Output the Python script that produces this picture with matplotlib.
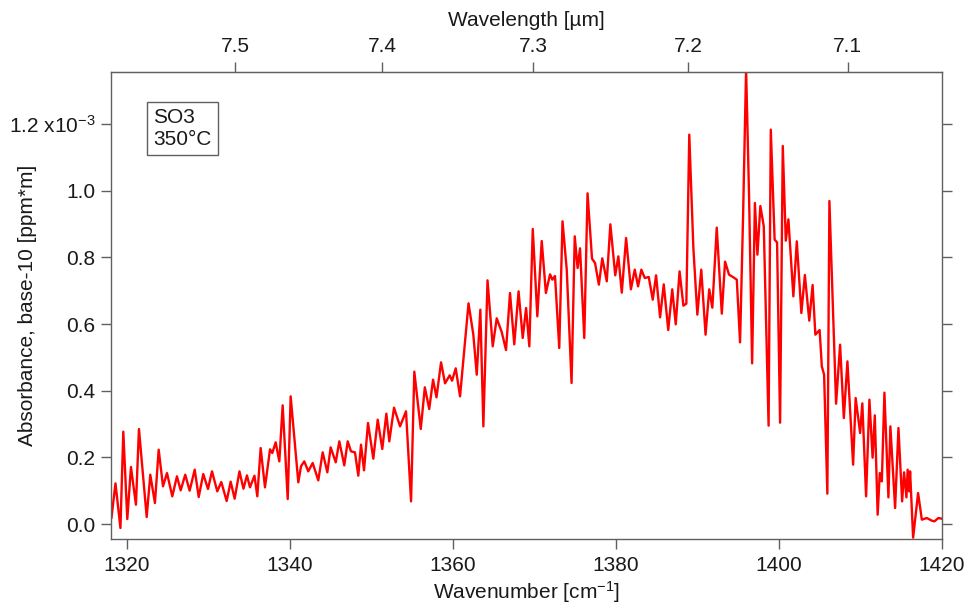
import numpy as np
import matplotlib
matplotlib.use("Agg")
import matplotlib.pyplot as plt
from matplotlib.ticker import FuncFormatter, FixedLocator

plt.rcParams['font.family'] = ['Liberation Sans', 'DejaVu Sans']
plt.rcParams['mathtext.fontset'] = 'custom'
plt.rcParams['mathtext.rm'] = 'Liberation Sans'
plt.rcParams['mathtext.it'] = 'Liberation Sans'

# Wavenumber (cm^-1) and absorbance (x1e-3, base-10, per ppm*m)
wavenumber = [
    1318.15, 1318.64, 1319.25, 1319.60, 1320.09, 1320.54, 1321.15, 1321.52, 1322.47, 1322.91,
    1323.48, 1323.94, 1324.47, 1324.96, 1325.61, 1326.18, 1326.64, 1327.20, 1327.74, 1328.36,
    1328.85, 1329.41, 1329.99, 1330.48, 1331.13, 1331.62, 1332.28, 1332.77, 1333.26, 1333.85,
    1334.34, 1334.77, 1335.14, 1335.69, 1336.04, 1336.45, 1336.98, 1337.60, 1337.88, 1338.29,
    1338.74, 1339.15, 1339.77, 1340.13, 1341.07, 1341.40, 1341.80, 1342.29, 1342.83, 1343.52,
    1344.06, 1344.63, 1345.04, 1345.66, 1346.10, 1346.71, 1347.13, 1347.53, 1348.02, 1348.43,
    1348.76, 1349.13, 1349.62, 1350.27, 1350.81, 1351.37, 1351.87, 1352.23, 1352.81, 1353.55,
    1354.28, 1354.90, 1355.30, 1356.09, 1356.59, 1357.13, 1357.60, 1358.02, 1358.58, 1359.07,
    1359.64, 1359.93, 1360.38, 1360.91, 1361.40, 1361.95, 1362.54, 1362.96, 1363.40, 1363.77,
    1364.28, 1364.92, 1365.41, 1366.02, 1366.55, 1367.04, 1367.56, 1368.09, 1368.60, 1369.01,
    1369.41, 1369.83, 1370.39, 1370.93, 1371.44, 1371.95, 1372.23, 1372.56, 1373.08, 1373.48,
    1374.00, 1374.59, 1374.98, 1375.33, 1375.63, 1376.15, 1376.55, 1377.10, 1377.47, 1377.94,
    1378.36, 1378.91, 1379.35, 1379.95, 1380.33, 1380.75, 1381.28, 1381.87, 1382.34, 1382.75,
    1383.15, 1383.57, 1384.06, 1384.55, 1384.96, 1385.45, 1385.90, 1386.45, 1386.94, 1387.37,
    1387.84, 1388.31, 1388.67, 1389.03, 1389.53, 1390.02, 1390.50, 1391.03, 1391.48, 1391.86,
    1392.40, 1393.02, 1393.42, 1393.91, 1394.44, 1394.86, 1395.26, 1395.63, 1396.00, 1396.37,
    1396.74, 1397.08, 1397.39, 1397.75, 1398.17, 1398.76, 1399.03, 1399.50, 1399.80, 1400.17,
    1400.50, 1400.87, 1401.19, 1401.80, 1402.22, 1402.78, 1403.21, 1403.75, 1404.16, 1404.50,
    1405.02, 1405.29, 1405.57, 1405.97, 1406.22, 1407.04, 1407.53, 1407.99, 1408.43, 1409.13,
    1409.44, 1409.99, 1410.26, 1410.72, 1411.13, 1411.52, 1411.79, 1412.14, 1412.40, 1412.65,
    1412.97, 1413.46, 1413.70, 1414.28, 1414.69, 1415.14, 1415.38, 1415.67, 1415.82, 1416.00,
    1416.12, 1416.49, 1417.10, 1417.56, 1418.17, 1418.79, 1419.10, 1419.59, 1420.00,
]
absorbance = [
    0.019, 0.122, -0.012, 0.277, 0.015, 0.171, 0.058, 0.285, 0.021, 0.148,
    0.063, 0.223, 0.113, 0.153, 0.083, 0.143, 0.101, 0.148, 0.100, 0.163,
    0.081, 0.150, 0.105, 0.158, 0.098, 0.126, 0.069, 0.127, 0.076, 0.158,
    0.106, 0.146, 0.110, 0.145, 0.083, 0.228, 0.110, 0.224, 0.213, 0.245,
    0.188, 0.356, 0.075, 0.383, 0.125, 0.173, 0.188, 0.158, 0.183, 0.131,
    0.215, 0.155, 0.230, 0.185, 0.248, 0.176, 0.248, 0.218, 0.215, 0.145,
    0.238, 0.161, 0.303, 0.196, 0.313, 0.225, 0.331, 0.248, 0.349, 0.293,
    0.338, 0.068, 0.457, 0.285, 0.410, 0.345, 0.433, 0.380, 0.485, 0.422,
    0.446, 0.430, 0.467, 0.383, 0.514, 0.662, 0.568, 0.448, 0.643, 0.293,
    0.731, 0.533, 0.617, 0.576, 0.522, 0.693, 0.539, 0.698, 0.558, 0.648,
    0.533, 0.885, 0.623, 0.849, 0.693, 0.749, 0.733, 0.744, 0.528, 0.908,
    0.763, 0.423, 0.863, 0.768, 0.827, 0.558, 0.992, 0.796, 0.783, 0.718,
    0.797, 0.728, 0.899, 0.746, 0.803, 0.694, 0.858, 0.704, 0.763, 0.713,
    0.763, 0.738, 0.741, 0.673, 0.746, 0.620, 0.719, 0.582, 0.704, 0.599,
    0.758, 0.655, 0.661, 1.168, 0.829, 0.628, 0.763, 0.568, 0.704, 0.649,
    0.889, 0.631, 0.787, 0.748, 0.740, 0.733, 0.545, 0.923, 1.365, 0.978,
    0.482, 0.963, 0.808, 0.954, 0.893, 0.295, 1.183, 0.853, 0.845, 0.304,
    1.134, 0.850, 0.914, 0.683, 0.848, 0.633, 0.747, 0.610, 0.717, 0.568,
    0.582, 0.473, 0.448, 0.091, 0.969, 0.361, 0.538, 0.318, 0.488, 0.178,
    0.378, 0.273, 0.362, 0.083, 0.373, 0.199, 0.326, 0.028, 0.153, 0.128,
    0.394, 0.080, 0.293, 0.048, 0.288, 0.068, 0.155, 0.080, 0.163, 0.098,
    0.158, -0.041, 0.093, 0.013, 0.018, 0.010, 0.008, 0.018, 0.016,
]

x_ticks = [1320, 1340, 1360, 1380, 1400, 1420]
y_ticks = [0.0, 0.2, 0.4, 0.6, 0.8, 1.0, 1.2]
wl_ticks = [7.5, 7.4, 7.3, 7.2, 7.1]
label_text = "SO3\n350°C"

spine_c = '#606060'
text_c = '#1a1a1a'
FS = 15

fig = plt.figure(figsize=(9.77, 6.11), dpi=100)
ax = fig.add_axes([0.1141, 0.1178, 0.8498, 0.7644])

ax.plot(wavenumber, absorbance, color='#ff0000', lw=1.7, solid_joinstyle='round')

ax.set_xlim(1318.15, 1420.0)
ax.set_ylim(-0.045, 1.356)
ax.xaxis.set_major_locator(FixedLocator(x_ticks))
ax.yaxis.set_major_locator(FixedLocator(y_ticks))

def yfmt(v, pos):
    if abs(v - 1.2) < 1e-6:
        return r'1.2 x10$^{\mathregular{-3}}$'
    return f'{v:.1f}'
ax.yaxis.set_major_formatter(FuncFormatter(yfmt))
ax.xaxis.set_major_formatter(FuncFormatter(lambda v, p: f'{v:.0f}'))

for s in ax.spines.values():
    s.set_color(spine_c)
    s.set_linewidth(1.0)
ax.tick_params(axis='both', direction='out', length=7.5, width=1.0, color=spine_c,
               labelsize=FS, labelcolor=text_c, pad=4)
ax.tick_params(axis='y', right=True, labelright=False)
ax.tick_params(axis='x', top=False, pad=5)

ax.set_xlabel(r'Wavenumber [cm$^{\mathregular{-1}}$]', fontsize=FS, color=text_c, labelpad=3)
ax.set_ylabel('Absorbance, base-10 [ppm*m]', fontsize=FS, color=text_c)
ax.yaxis.set_label_coords(-0.090, 0.5)

def wn2wl(x):
    x = np.asarray(x, dtype=float)
    with np.errstate(divide='ignore', invalid='ignore'):
        return np.where(x != 0, 1e4 / x, np.inf)

sec = ax.secondary_xaxis('top', functions=(wn2wl, wn2wl))
sec.xaxis.set_major_locator(FixedLocator(wl_ticks))
sec.xaxis.set_major_formatter(FuncFormatter(lambda v, p: f'{v:.1f}'))
sec.tick_params(direction='out', length=7.5, width=1.0, color=spine_c,
                labelsize=FS, labelcolor=text_c, pad=4)
sec.spines['top'].set_color(spine_c)
sec.set_xlabel('Wavelength [µm]', fontsize=FS, color=text_c, labelpad=8)

ax.text(0.050, 0.922, label_text, transform=ax.transAxes, fontsize=FS, color=text_c,
        va='top', ha='left', linespacing=1.15,
        bbox=dict(boxstyle='square,pad=0.3', facecolor='white', edgecolor=spine_c, lw=1.0))

fig.savefig('out.png', dpi=100)
